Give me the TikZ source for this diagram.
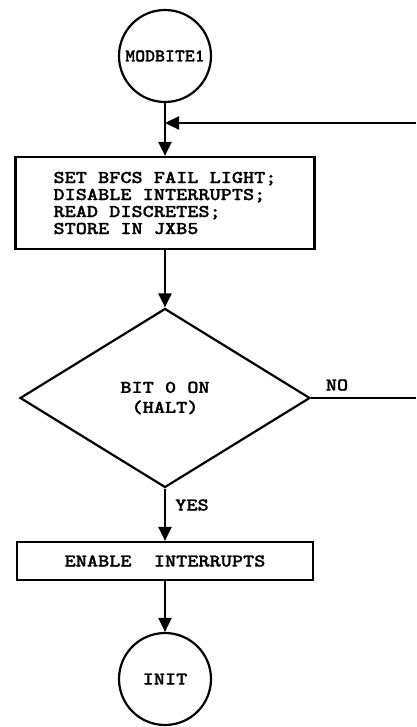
\documentclass[tikz,border=0pt]{standalone}
\usepackage{graphicx}
\usepackage{fontspec}
\usetikzlibrary{shapes.geometric,arrows.meta}

% heavy typewriter face for all labels
\newfontfamily\typerfont{lmmonolt10-bold.otf}[FakeBold=1.2]
% widened typewriter lettering
\newcommand{\typed}[1]{\scalebox{1.18}[1]{#1}}

\tikzset{
  flow/.style={line width=2.2pt},
  arr/.style={flow,-{Triangle[length=14pt,width=13pt]}},
  txt/.style={font=\fontsize{18}{17}\selectfont\typerfont},
  term/.style={txt,circle,draw,line width=2.2pt,minimum size=92pt,inner sep=0pt},
  procbox/.style={txt,rectangle,draw,line width=2.2pt,inner sep=0pt},
  decision/.style={txt,diamond,draw,line width=2.2pt,minimum width=290pt,
    minimum height=179pt,inner sep=0pt,align=center},
  lbl/.style={txt,inner sep=0pt}
}

\begin{document}
\begin{tikzpicture}[x=1pt,y=-1pt]
\useasboundingbox (0,0) rectangle (416,727);

% flowchart blocks
\node[term] (start) at (165,56) {\scalebox{1.05}[1]{MODBITE1}};
\node[procbox,minimum width=299pt,minimum height=92pt,align=left] (setfail) at (165,203)
  {\typed{SET BFCS FAIL LIGHT;}\\\typed{DISABLE INTERRUPTS;}\\\typed{READ DISCRETES;}\\\typed{STORE IN JXB5}};
\node[decision] (halt) at (165,398) {\typed{BIT 0 ON}\\[3pt]\typed{(HALT)}};
\node[procbox,minimum width=296pt,minimum height=38pt] (enable) at (165,561)
  {\typed{ENABLE\ \ INTERRUPTS}};
\node[term] (init) at (165,679) {\typed{INIT}};

% loop re-entry from the right
\coordinate (loopin) at (416,123);
\draw[arr] (loopin) -- (start.south |- loopin);

% main flow
\draw[arr] (start) -- (setfail);
\draw[arr] (setfail) -- (halt);
\coordinate (noout) at (416,398);
\draw[flow] (halt.east) -- (noout);
\node[lbl] (nolbl) at (337,385) {\typed{NO}};
\draw[arr] (halt) -- (enable);
\node[lbl] (yeslbl) at (192,505) {\typed{YES}};
\draw[arr] (enable) -- (init);
\end{tikzpicture}
\end{document}
